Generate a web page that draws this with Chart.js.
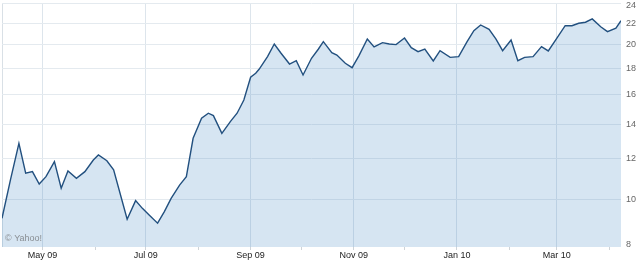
<!DOCTYPE html>
<html>
<head>
<meta charset="utf-8">
<style>
  html, body { margin: 0; padding: 0; background: #fff; }
  #wrap { width: 640px; height: 261px; }
</style>
<script src="https://cdn.jsdelivr.net/npm/chart.js@4/dist/chart.umd.min.js"></script>
</head>
<body>
<div id="wrap"><canvas id="priceChart" width="640" height="261"></canvas></div>
<script>
// ====== DATOS ======
const dates = [
  '2009-04-07','2009-04-12','2009-04-17','2009-04-21','2009-04-25','2009-04-29','2009-05-03','2009-05-08','2009-05-12','2009-05-16',
  '2009-05-21','2009-05-26','2009-05-31','2009-06-03','2009-06-08','2009-06-12','2009-06-20','2009-06-25','2009-06-29','2009-07-03',
  '2009-07-08','2009-07-12','2009-07-16','2009-07-21','2009-07-25','2009-07-29','2009-08-03','2009-08-07','2009-08-10','2009-08-15',
  '2009-08-20','2009-08-24','2009-08-28','2009-09-01','2009-09-04','2009-09-06','2009-09-11','2009-09-15','2009-09-19','2009-09-24',
  '2009-09-28','2009-10-02','2009-10-07','2009-10-11','2009-10-14','2009-10-19','2009-10-22','2009-10-27','2009-10-31','2009-11-04',
  '2009-11-09','2009-11-13','2009-11-18','2009-11-22','2009-11-26','2009-12-01','2009-12-05','2009-12-09','2009-12-13','2009-12-18',
  '2009-12-22','2009-12-28','2010-01-02','2010-01-07','2010-01-11','2010-01-15','2010-01-20','2010-01-24','2010-01-28','2010-02-02',
  '2010-02-06','2010-02-10','2010-02-15','2010-02-20','2010-02-24','2010-03-01','2010-03-06','2010-03-10','2010-03-14','2010-03-18',
  '2010-03-22','2010-03-27','2010-03-31','2010-04-05','2010-04-08'
];

const prices = [
  9.18, 10.91, 12.86, 11.24, 11.32, 10.71, 11.07, 11.84, 10.51, 11.36,
  10.99, 11.32, 11.93, 12.20, 11.89, 11.41, 9.14, 9.94, 9.60, 9.32,
  8.98, 9.46, 10.04, 10.66, 11.07, 13.15, 14.39, 14.72, 14.56, 13.45,
  14.17, 14.72, 15.62, 17.30, 17.61, 17.93, 18.98, 20.09, 19.27, 18.36,
  18.64, 17.48, 18.84, 19.62, 20.30, 19.32, 19.12, 18.42, 18.06, 19.05,
  20.55, 19.82, 20.21, 20.09, 20.03, 20.63, 19.76, 19.41, 19.64, 18.61,
  19.49, 18.92, 18.98, 20.30, 21.33, 21.88, 21.46, 20.55, 19.49, 20.45,
  18.64, 18.92, 18.98, 19.85, 19.47, 20.61, 21.81, 21.81, 22.05, 22.15,
  22.48, 21.71, 21.23, 21.56, 22.31
];

const monthTicks = [
  '2009-05-01','2009-06-01','2009-07-01','2009-08-01','2009-09-01','2009-10-01',
  '2009-11-01','2009-12-01','2010-01-01','2010-02-01','2010-03-01','2010-04-01'
];
const monthLabels = ['May 09','','Jul 09','','Sep 09','','Nov 09','','Jan 10','','Mar 10',''];

const yTicks = [8, 10, 12, 14, 16, 18, 20, 22, 24];
const yMin = 8.07;
const yMax = 24.15;
const xStart = '2009-04-07';
const xEnd   = '2010-04-08';

(function () {
  const FONT = "'Liberation Sans', Arial, sans-serif";
  const CLEAR = 'rgba(0,0,0,0)';
  const toMs = (d) => Date.parse(d);

  const points = dates.map((d, i) => ({ x: toMs(d), y: prices[i] }));
  const labelByMs = {};
  monthTicks.forEach((d, i) => { labelByMs[toMs(d)] = monthLabels[i]; });

  // ticks del eje y: los extremos se meten un poco para que la etiqueta no se corte
  function buildYTicks() {
    const out = yTicks.map(v => {
      const inner = Math.min(Math.max(v, yMin * 1.01), yMax * 0.988);
      return { value: inner, lbl: String(v), edge: inner !== v };
    });
    out.push({ value: yMax, lbl: '', edge: false });
    return out;
  }

  // texto "© Yahoo!" en la esquina
  const creditPlugin = {
    id: 'credit',
    afterDatasetsDraw(chart) {
      const { ctx, chartArea } = chart;
      ctx.save();
      ctx.font = '9px ' + FONT;
      ctx.fillStyle = '#8a8f94';
      ctx.textBaseline = 'alphabetic';
      ctx.fillText('\u00A9 Yahoo!', chartArea.left + 3, chartArea.bottom - 6);
      ctx.restore();
    }
  };

  const ctx = document.getElementById('priceChart').getContext('2d');
  new Chart(ctx, {
    type: 'line',
    data: {
      datasets: [{
        data: points,
        borderColor: '#22507f',
        borderWidth: 1.4,
        backgroundColor: 'rgba(70,135,195,0.22)',
        fill: 'start',
        tension: 0,
        pointRadius: 0
      }]
    },
    options: {
      responsive: false,
      animation: false,
      layout: { padding: { left: 2, top: 3, right: 0, bottom: 0 } },
      plugins: { legend: { display: false }, tooltip: { enabled: false } },
      scales: {
        x: {
          type: 'linear',
          min: toMs(xStart),
          max: toMs(xEnd),
          afterBuildTicks: (s) => {
            s.ticks = [toMs(xStart)].concat(monthTicks.map(toMs)).map(v => ({ value: v }));
          },
          afterFit: (s) => { s.height = 14; s.paddingLeft = 0; s.paddingRight = 0; },
          border: { display: false },
          grid: {
            drawTicks: true,
            tickLength: 3,
            color: (c) => {
              const v = c.tick && c.tick.value;
              if (v === toMs(xStart)) return '#d9e0e6';
              return labelByMs[v] ? '#dde5ec' : CLEAR;
            },
            tickColor: (c) => (c.tick && c.tick.value === toMs(xStart)) ? CLEAR : '#cfd4d8'
          },
          ticks: {
            autoSkip: false,
            maxRotation: 0,
            padding: 0,
            color: '#222',
            font: { family: FONT, size: 9 },
            callback: (v) => labelByMs[v] || ''
          }
        },
        y: {
          type: 'logarithmic',
          position: 'right',
          min: yMin,
          max: yMax,
          afterBuildTicks: (s) => { s.ticks = buildYTicks(); },
          afterFit: (s) => { s.width = 19; s.paddingTop = 0; s.paddingBottom = 0; },
          border: { display: false },
          grid: {
            drawTicks: false,
            color: (c) => (c.tick && c.tick.edge) ? CLEAR : '#e4eaef'
          },
          ticks: {
            padding: 5,
            color: '#666',
            font: { family: FONT, size: 9 },
            callback: (v, i, ticks) => ticks[i].lbl
          }
        }
      }
    },
    plugins: [creditPlugin]
  });
})();
</script>
</body>
</html>
